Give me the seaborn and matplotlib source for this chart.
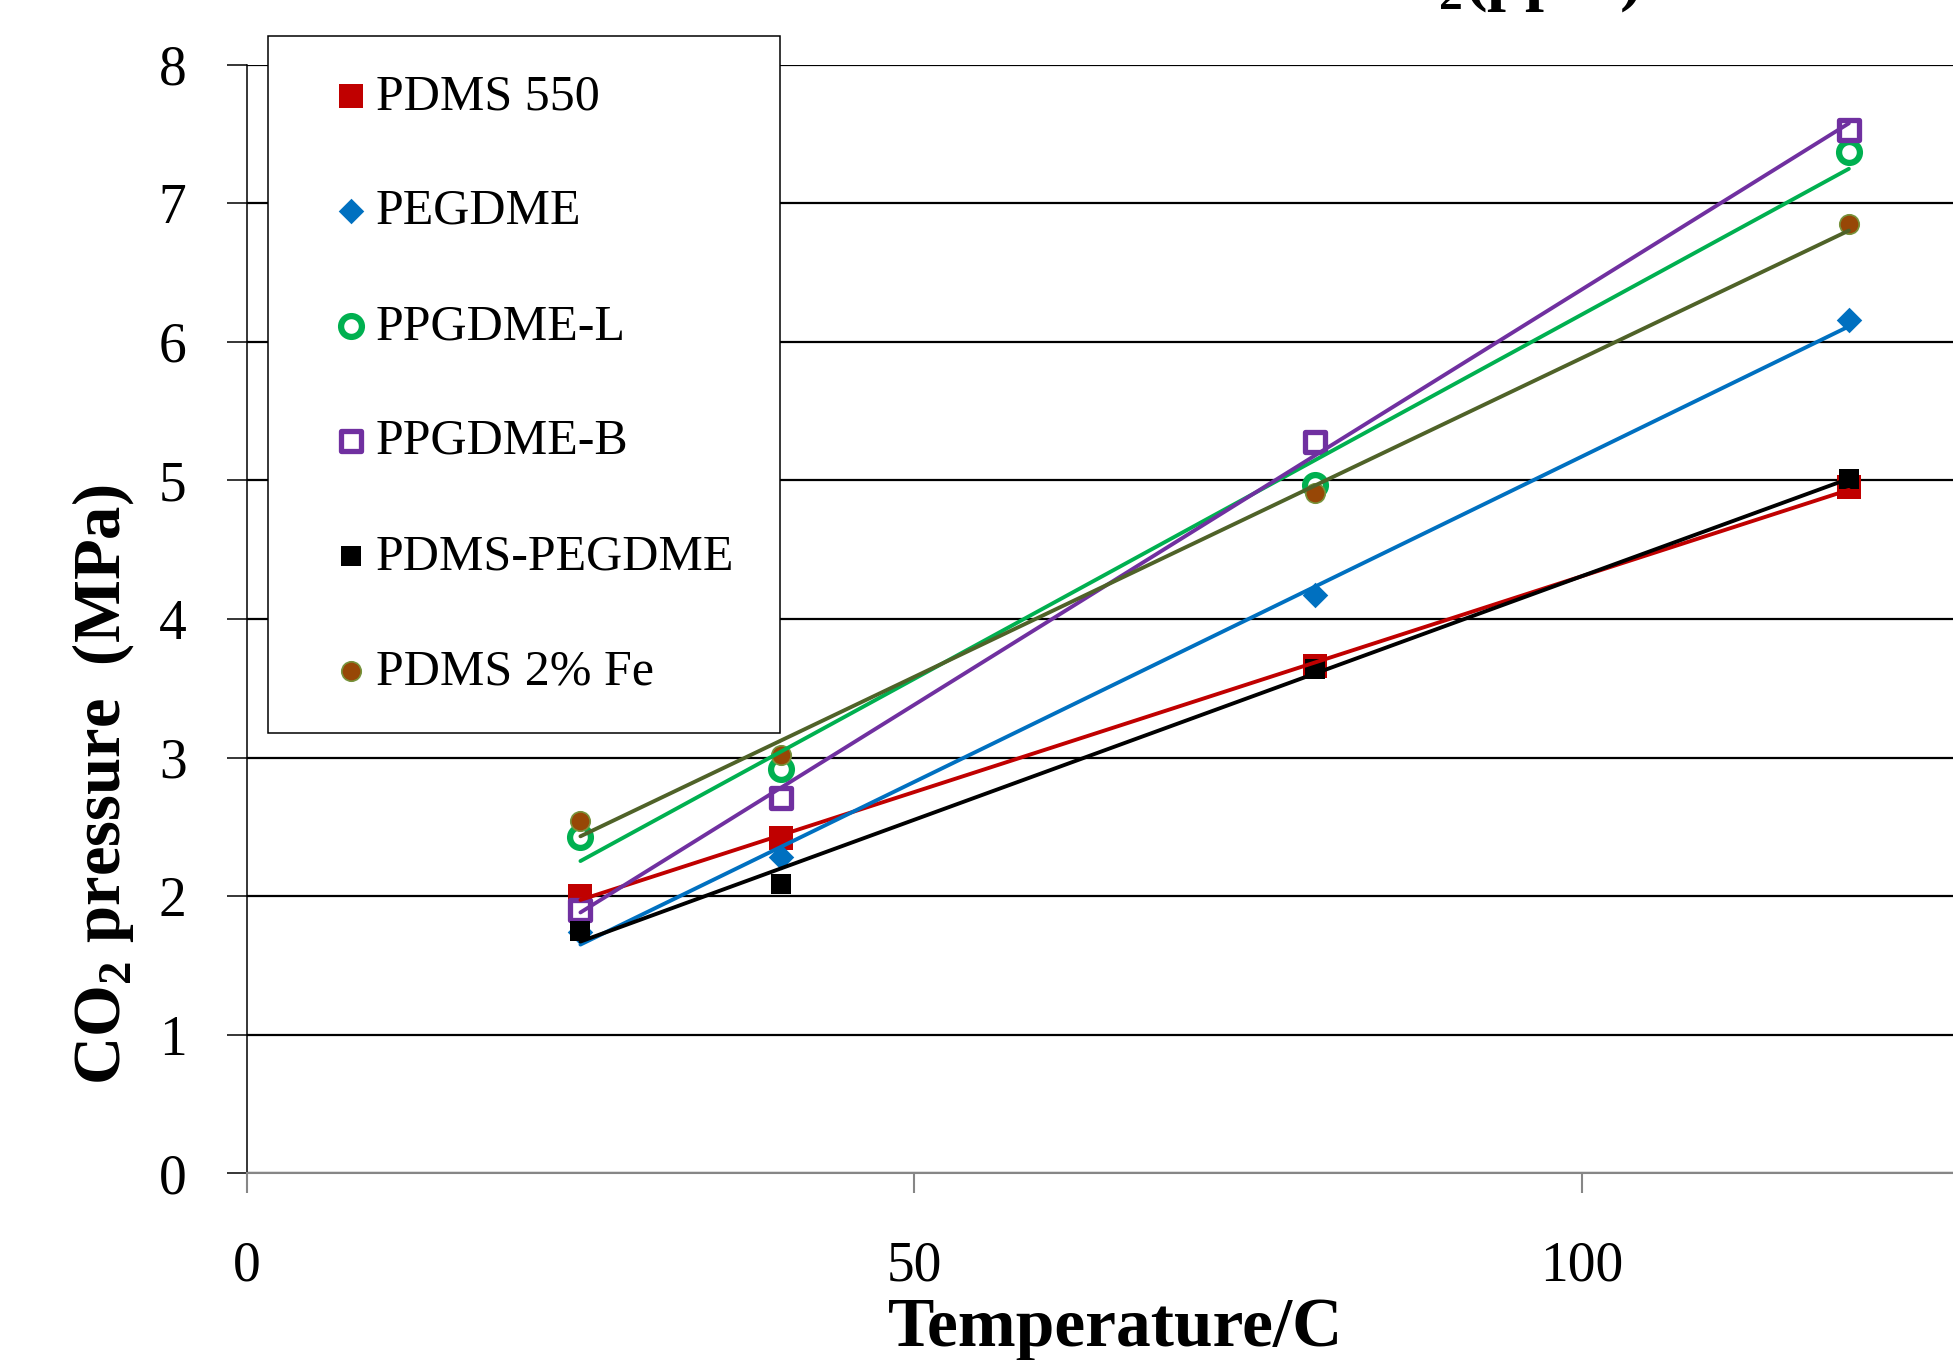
import numpy as np
import matplotlib
matplotlib.use("Agg")
import matplotlib.pyplot as plt
import seaborn as sns

# temperatures (C) and CO2 pressure (MPa) for each membrane
temps = [25, 40, 80, 120]
pdms550 = [2.00, 2.42, 3.66, 4.95]
pegdme = [1.74, 2.28, 4.17, 6.16]
ppgdme_l = [2.43, 2.92, 4.97, 7.37]
ppgdme_b = [1.90, 2.71, 5.28, 7.53]
pdms_pegdme = [1.75, 2.09, 3.64, 5.01]
pdms_fe = [2.54, 3.02, 4.91, 6.85]

labels = ["PDMS 550", "PEGDME", "PPGDME-L", "PPGDME-B", "PDMS-PEGDME", "PDMS 2% Fe"]
yticks = [0, 1, 2, 3, 4, 5, 6, 7, 8]
xticks = [0, 50, 100]

sns.set_style("white")
plt.rcParams["font.family"] = ["Liberation Serif", "DejaVu Serif"]
plt.rcParams["mathtext.fontset"] = "custom"
plt.rcParams["mathtext.rm"] = "Liberation Serif"
plt.rcParams["mathtext.bf"] = "Liberation Serif:bold"
plt.rcParams["text.color"] = "black"
plt.rcParams["axes.labelcolor"] = "black"

fig = plt.figure(figsize=(19.53, 13.6), dpi=100)
ax = fig.add_axes([0.1263, 0.1373, 0.8737, 0.8151])

# marker styles per series: (values, marker, size, face, edge, edge width, line colour)
series = [
    (pdms550, "s", 17.8, "#C00000", "#C00000", 0.0, "#C00000"),
    (pegdme, "D", 13.0, "#0070C0", "#0070C0", 0.0, "#0070C0"),
    (ppgdme_l, "o", 15.0, "white", "#00B050", 4.5, "#00B050"),
    (ppgdme_b, "s", 14.6, "white", "#7030A0", 3.8, "#7030A0"),
    (pdms_pegdme, "s", 14.6, "black", "black", 0.0, "black"),
    (pdms_fe, "o", 14.0, "#974706", "#77933C", 1.2, "#4F6228"),
]

for (vals, mk, ms, fc, ec, ew, lc), lab in zip(series, labels):
    sns.scatterplot(x=temps, y=vals, marker=mk, s=ms ** 2, color=fc,
                    edgecolor=ec, linewidth=ew, label=lab, ax=ax, zorder=3)

# linear trend lines on top of the markers
for vals, mk, ms, fc, ec, ew, lc in series:
    sns.regplot(x=np.array(temps), y=np.array(vals), scatter=False, ci=None,
                truncate=True, color=lc, line_kws={"lw": 2.8, "zorder": 4}, ax=ax)

ax.set_xlim(0, 127.8)
ax.set_ylim(0, 8)
ax.set_yticks(yticks)
ax.set_xticks(xticks)
ax.set_axisbelow(True)
ax.yaxis.grid(True, color="black", lw=1.6)
ax.xaxis.grid(False)

for s in ["top", "right"]:
    ax.spines[s].set_visible(False)
ax.spines["left"].set_color("black")
ax.spines["left"].set_linewidth(1.1)
ax.spines["bottom"].set_color("#868686")
ax.spines["bottom"].set_linewidth(1.5)

ax.tick_params(axis="y", direction="out", length=14.4, width=1.1, color="black",
               pad=29, labelsize=40, labelcolor="black", left=True)
ax.tick_params(axis="x", direction="out", length=14.4, width=1.5, color="#868686",
               pad=34, labelsize=40, labelcolor="black", bottom=True)

ax.set_xlabel("Temperature/C", fontsize=50, fontweight="bold", color="black")
ax.xaxis.set_label_coords(0.5095, -0.112)
ax.set_ylabel(r"CO$_\mathbf{2}$ pressure  (MPa)", fontsize=48, fontweight="bold",
              color="black")
ax.yaxis.set_label_coords(-0.065, 0.350)

# title runs off the top of the picture, only its lower part is seen
fig.text(0.840, 1.0015, r"CO$_\mathbf{2}$(ppm)", fontsize=49, fontweight="bold",
         ha="right", va="baseline", color="black")

leg = ax.legend(loc="upper left",
                bbox_to_anchor=(268 / 1953, 1 - 729 / 1360, 512 / 1953, 693 / 1360),
                bbox_transform=fig.transFigure, mode="expand", borderaxespad=0,
                fontsize=36, frameon=True, fancybox=False, framealpha=1,
                edgecolor="black", borderpad=0.75, labelspacing=1.37,
                handlelength=1.8, handletextpad=-0.4, scatterpoints=1)
leg.get_frame().set_linewidth(1.1)
for t in leg.get_texts():
    t.set_color("black")
leg.set_zorder(10)

fig.savefig("out.png", dpi=100)
